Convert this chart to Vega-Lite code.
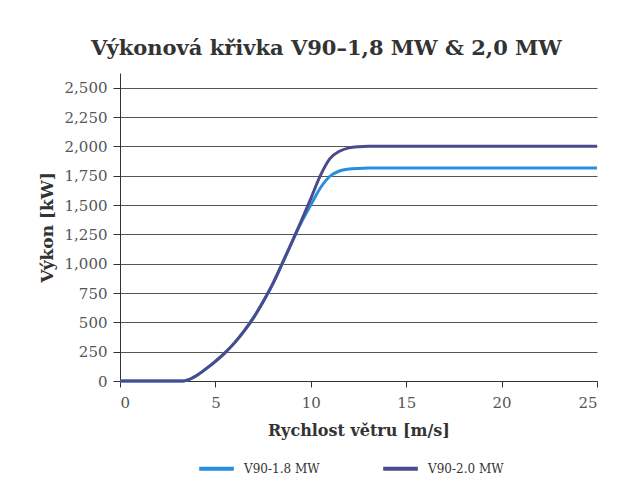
{
  "$schema": "https://vega.github.io/schema/vega-lite/v6.json",
  "width": 477,
  "height": 308,
  "autosize": "none",
  "padding": {"left": 120, "top": 73, "right": 35, "bottom": 110},
  "background": "white",
  "title": {
    "text": "Výkonová křivka V90–1,8 MW & 2,0 MW",
    "font": "DejaVu Serif",
    "fontSize": 21,
    "fontWeight": "bold",
    "color": "#333333",
    "offset": 14,
    "dx": -32,
    "anchor": "middle"
  },
  "data": {
    "values": [
      {"model": "V90-1.8 MW", "speed": 0, "power": 0},
      {"model": "V90-1.8 MW", "speed": 1, "power": 0},
      {"model": "V90-1.8 MW", "speed": 2, "power": 0},
      {"model": "V90-1.8 MW", "speed": 3, "power": 0},
      {"model": "V90-1.8 MW", "speed": 3.3, "power": 0},
      {"model": "V90-1.8 MW", "speed": 3.5, "power": 6},
      {"model": "V90-1.8 MW", "speed": 4, "power": 45},
      {"model": "V90-1.8 MW", "speed": 4.5, "power": 103},
      {"model": "V90-1.8 MW", "speed": 5, "power": 168},
      {"model": "V90-1.8 MW", "speed": 5.5, "power": 240},
      {"model": "V90-1.8 MW", "speed": 6, "power": 325},
      {"model": "V90-1.8 MW", "speed": 6.5, "power": 425},
      {"model": "V90-1.8 MW", "speed": 7, "power": 540},
      {"model": "V90-1.8 MW", "speed": 7.5, "power": 675},
      {"model": "V90-1.8 MW", "speed": 8, "power": 825},
      {"model": "V90-1.8 MW", "speed": 8.5, "power": 1000},
      {"model": "V90-1.8 MW", "speed": 9, "power": 1180},
      {"model": "V90-1.8 MW", "speed": 9.5, "power": 1350},
      {"model": "V90-1.8 MW", "speed": 10, "power": 1500},
      {"model": "V90-1.8 MW", "speed": 10.5, "power": 1645},
      {"model": "V90-1.8 MW", "speed": 11, "power": 1745},
      {"model": "V90-1.8 MW", "speed": 11.5, "power": 1790},
      {"model": "V90-1.8 MW", "speed": 12, "power": 1806},
      {"model": "V90-1.8 MW", "speed": 12.5, "power": 1812},
      {"model": "V90-1.8 MW", "speed": 13, "power": 1815},
      {"model": "V90-1.8 MW", "speed": 14, "power": 1815},
      {"model": "V90-1.8 MW", "speed": 15, "power": 1815},
      {"model": "V90-1.8 MW", "speed": 20, "power": 1815},
      {"model": "V90-1.8 MW", "speed": 25, "power": 1815},
      {"model": "V90-2.0 MW", "speed": 0, "power": 0},
      {"model": "V90-2.0 MW", "speed": 1, "power": 0},
      {"model": "V90-2.0 MW", "speed": 2, "power": 0},
      {"model": "V90-2.0 MW", "speed": 3, "power": 0},
      {"model": "V90-2.0 MW", "speed": 3.3, "power": 0},
      {"model": "V90-2.0 MW", "speed": 3.5, "power": 6},
      {"model": "V90-2.0 MW", "speed": 4, "power": 45},
      {"model": "V90-2.0 MW", "speed": 4.5, "power": 103},
      {"model": "V90-2.0 MW", "speed": 5, "power": 168},
      {"model": "V90-2.0 MW", "speed": 5.5, "power": 240},
      {"model": "V90-2.0 MW", "speed": 6, "power": 325},
      {"model": "V90-2.0 MW", "speed": 6.5, "power": 425},
      {"model": "V90-2.0 MW", "speed": 7, "power": 540},
      {"model": "V90-2.0 MW", "speed": 7.5, "power": 675},
      {"model": "V90-2.0 MW", "speed": 8, "power": 825},
      {"model": "V90-2.0 MW", "speed": 8.5, "power": 1000},
      {"model": "V90-2.0 MW", "speed": 9, "power": 1180},
      {"model": "V90-2.0 MW", "speed": 9.5, "power": 1365},
      {"model": "V90-2.0 MW", "speed": 10, "power": 1555},
      {"model": "V90-2.0 MW", "speed": 10.5, "power": 1750},
      {"model": "V90-2.0 MW", "speed": 11, "power": 1895},
      {"model": "V90-2.0 MW", "speed": 11.5, "power": 1958},
      {"model": "V90-2.0 MW", "speed": 12, "power": 1987},
      {"model": "V90-2.0 MW", "speed": 12.5, "power": 1997},
      {"model": "V90-2.0 MW", "speed": 13, "power": 2000},
      {"model": "V90-2.0 MW", "speed": 14, "power": 2000},
      {"model": "V90-2.0 MW", "speed": 15, "power": 2000},
      {"model": "V90-2.0 MW", "speed": 20, "power": 2000},
      {"model": "V90-2.0 MW", "speed": 25, "power": 2000}
    ]
  },
  "mark": {"type": "line", "strokeWidth": 3, "interpolate": "monotone"},
  "encoding": {
    "x": {
      "field": "speed",
      "type": "quantitative",
      "scale": {"domain": [0, 25], "nice": false},
      "axis": {
        "values": [0, 5, 10, 15, 20, 25],
        "title": "Rychlost větru [m/s]",
        "grid": false,
        "labelFont": "DejaVu Serif",
        "labelFontSize": 15,
        "labelColor": "#555555",
        "labelPadding": 8,
        "tickSize": 6,
        "tickColor": "#333333",
        "domainColor": "#333333",
        "titleFont": "DejaVu Serif",
        "titleFontSize": 16,
        "titleFontWeight": "bold",
        "titleColor": "#333333",
        "titlePadding": 12
      }
    },
    "y": {
      "field": "power",
      "type": "quantitative",
      "scale": {"domain": [0, 2625], "nice": false},
      "axis": {
        "values": [0, 250, 500, 750, 1000, 1250, 1500, 1750, 2000, 2250, 2500],
        "format": ",d",
        "title": "Výkon [kW]",
        "grid": true,
        "gridColor": "#555555",
        "gridWidth": 1,
        "gridOpacity": 1,
        "labelFont": "DejaVu Serif",
        "labelFontSize": 15,
        "labelColor": "#555555",
        "labelPadding": 6,
        "tickSize": 7,
        "tickColor": "#333333",
        "domainColor": "#333333",
        "titleFont": "DejaVu Serif",
        "titleFontSize": 17,
        "titleFontWeight": "bold",
        "titleColor": "#333333",
        "titlePadding": 8
      }
    },
    "color": {
      "field": "model",
      "type": "nominal",
      "scale": {"domain": ["V90-1.8 MW", "V90-2.0 MW"], "range": ["#2a8ee0", "#4b4a8c"]},
      "legend": {
        "orient": "none",
        "legendX": 77,
        "legendY": 376,
        "direction": "horizontal",
        "title": null,
        "symbolType": "stroke",
        "symbolSize": 1200,
        "symbolStrokeWidth": 4,
        "labelFont": "DejaVu Serif",
        "labelFontSize": 12,
        "labelColor": "#333333",
        "labelOffset": 8,
        "columnPadding": 55
      }
    }
  },
  "config": {"view": {"stroke": null}}
}
